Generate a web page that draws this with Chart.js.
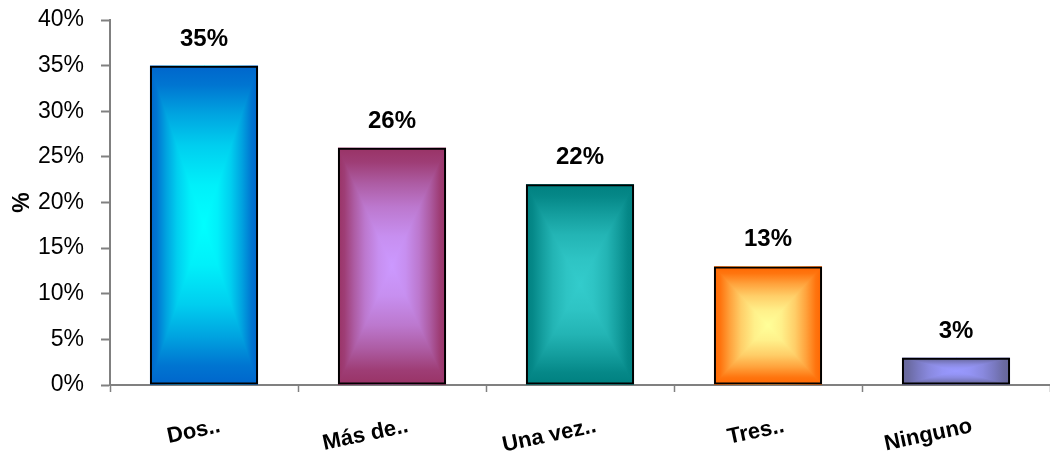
<!DOCTYPE html>
<html>
<head>
<meta charset="utf-8">
<script src="https://cdn.jsdelivr.net/npm/chart.js@4.4.1/dist/chart.umd.min.js"></script>
<style>
  html, body { margin: 0; padding: 0; background: #ffffff; }
  canvas { display: block; }
</style>
</head>
<body>
<canvas id="chart" width="1050" height="457"></canvas>
<script>
// Categories and the share (%) of answers for each
const categories = ['Dos..', 'Más de..', 'Una vez..', 'Tres..', 'Ninguno'];
const shares = [35, 26, 22, 13, 3];

// Y axis tick values (in %)
const yTickValues = [0, 5, 10, 15, 20, 25, 30, 35, 40];

// Bar fills: colour at the edges and colour in the centre of each bar
const edgeColors = ['#0066cc', '#993366', '#008080', '#ff6600', '#666699'];
const centerColors = ['#00ffff', '#cc99ff', '#33cccc', '#ffff99', '#9999ff'];

const FONT = "'Liberation Sans', Arial, Helvetica, sans-serif";

function mix(a, b, t) {
  const pa = parseInt(a.slice(1), 16), pb = parseInt(b.slice(1), 16);
  const ch = s => [(s >> 16) & 255, (s >> 8) & 255, s & 255];
  const ca = ch(pa), cb = ch(pb);
  return 'rgb(' + ca.map((v, k) => Math.round(v + (cb[k] - v) * t)).join(',') + ')';
}

function addStops(g, edge, center) {
  // edge -> centre
  const stops = [[0, 0], [0.12, 0.1], [0.3, 0.4], [0.5, 0.68], [0.75, 0.9], [1, 1]];
  stops.forEach(([pos, t]) => g.addColorStop(pos, mix(edge, center, t)));
}

// Paints a "from centre" rectangular gradient inside each bar before the outline is drawn
const centerFill = {
  id: 'centerFill',
  beforeDatasetsDraw(chart) {
    const ctx = chart.ctx;
    chart.getDatasetMeta(0).data.forEach((bar, i) => {
      const p = bar.getProps(['x', 'y', 'base', 'width'], true);
      const x0 = p.x - p.width / 2, x1 = p.x + p.width / 2;
      const y0 = Math.min(p.y, p.base), y1 = Math.max(p.y, p.base);
      const cx = p.x, cy = (y0 + y1) / 2;
      ctx.save();
      // left half
      const gl = ctx.createLinearGradient(x0, 0, cx, 0);
      addStops(gl, edgeColors[i], centerColors[i]);
      ctx.fillStyle = gl;
      ctx.fillRect(x0, y0, cx - x0 + 0.5, y1 - y0);
      // right half
      const gr = ctx.createLinearGradient(x1, 0, cx, 0);
      addStops(gr, edgeColors[i], centerColors[i]);
      ctx.fillStyle = gr;
      ctx.fillRect(cx, y0, x1 - cx, y1 - y0);
      // top triangle
      const gt = ctx.createLinearGradient(0, y0, 0, cy);
      addStops(gt, edgeColors[i], centerColors[i]);
      ctx.beginPath();
      ctx.moveTo(x0, y0); ctx.lineTo(x1, y0); ctx.lineTo(cx, cy); ctx.closePath();
      ctx.fillStyle = gt;
      ctx.fill();
      // bottom triangle
      const gb = ctx.createLinearGradient(0, y1, 0, cy);
      addStops(gb, edgeColors[i], centerColors[i]);
      ctx.beginPath();
      ctx.moveTo(x0, y1); ctx.lineTo(x1, y1); ctx.lineTo(cx, cy); ctx.closePath();
      ctx.fillStyle = gb;
      ctx.fill();
      ctx.restore();
    });
  }
};

// Percentage written above each bar
const valueLabels = {
  id: 'valueLabels',
  afterDatasetsDraw(chart) {
    const ctx = chart.ctx;
    const data = chart.data.datasets[0].data;
    ctx.save();
    ctx.font = 'bold 24px ' + FONT;
    ctx.fillStyle = '#000000';
    ctx.textAlign = 'center';
    ctx.textBaseline = 'alphabetic';
    chart.getDatasetMeta(0).data.forEach((bar, i) => {
      const p = bar.getProps(['x', 'y'], true);
      ctx.fillText(data[i] + '%', p.x, p.y - 20);
    });
    ctx.restore();
  }
};

new Chart(document.getElementById('chart'), {
  type: 'bar',
  data: {
    labels: categories,
    datasets: [{
      data: shares,
      backgroundColor: 'rgba(0,0,0,0)',
      borderColor: '#000000',
      borderWidth: 2,
      borderSkipped: false,
      categoryPercentage: 1,
      barPercentage: 0.575
    }]
  },
  plugins: [centerFill, valueLabels],
  options: {
    responsive: false,
    animation: false,
    devicePixelRatio: 1,
    layout: { padding: { top: 20, right: 0, bottom: 0, left: 0 } },
    plugins: { legend: { display: false }, tooltip: { enabled: false } },
    scales: {
      x: {
        grid: { display: true, drawOnChartArea: false, offset: true, color: '#808080', tickLength: 7, tickWidth: 1.5 },
        border: { display: true, color: '#808080', width: 2 },
        ticks: {
          color: '#000000',
          font: { family: FONT, size: 22, weight: 'bold' },
          minRotation: 12,
          maxRotation: 12,
          autoSkip: false,
          padding: 21,
          labelOffset: 16
        },
        afterFit(scale) { scale.height = 72; }
      },
      y: {
        min: 0,
        max: 40,
        afterBuildTicks(scale) { scale.ticks = yTickValues.map(v => ({ value: v })); },
        grid: { display: true, drawOnChartArea: false, color: '#808080', tickLength: 9, tickWidth: 2 },
        border: { display: true, color: '#808080', width: 2 },
        ticks: {
          color: '#000000',
          font: { family: FONT, size: 23 },
          padding: 17,
          callback: v => v + '%'
        },
        title: {
          display: true,
          text: '%',
          color: '#000000',
          font: { family: FONT, size: 23, weight: 'bold' },
          padding: { top: 9, bottom: 0 }
        },
        afterFit(scale) {
          scale.width = 110;
          scale.paddingTop = 0;
          scale.paddingBottom = 0;
        }
      }
    }
  }
});
</script>
</body>
</html>
